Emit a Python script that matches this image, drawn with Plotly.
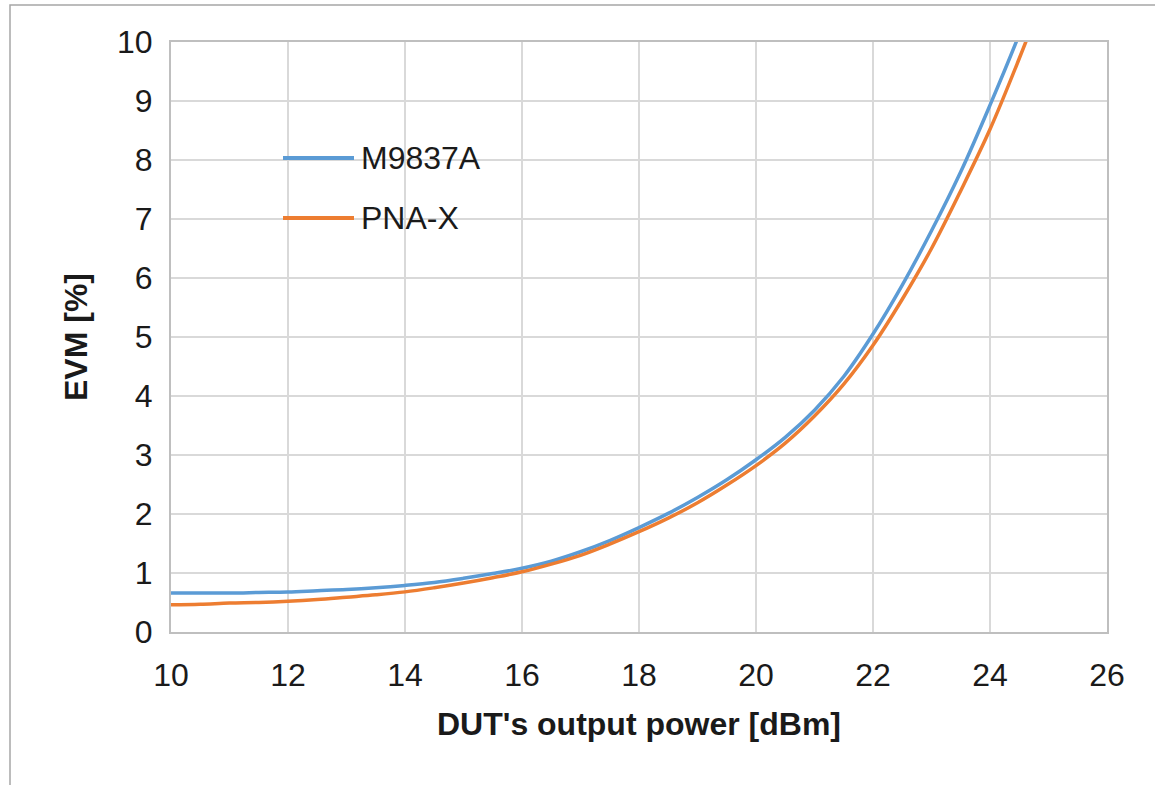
import plotly.graph_objects as go

# ---- data ----
power_dbm = [10, 10.5, 11, 11.5, 12, 12.5, 13, 13.5, 14, 14.5, 15, 15.5, 16, 16.5, 17, 17.5,
             18, 18.5, 19, 19.5, 20, 20.5, 21, 21.5, 22, 22.5, 23, 23.5, 24, 24.5, 25]
evm_m9837a = [0.66, 0.66, 0.66, 0.67, 0.68, 0.70, 0.72, 0.75, 0.79, 0.84, 0.91, 0.99, 1.08, 1.20,
              1.36, 1.55, 1.77, 2.01, 2.28, 2.58, 2.92, 3.30, 3.76, 4.33, 5.05, 5.88, 6.80, 7.80,
              8.93, 10.13, 11.45]
evm_pnax = [0.46, 0.47, 0.49, 0.50, 0.52, 0.55, 0.59, 0.63, 0.68, 0.75, 0.83, 0.92, 1.02, 1.15,
            1.30, 1.49, 1.70, 1.93, 2.19, 2.49, 2.82, 3.20, 3.66, 4.20, 4.86, 5.64, 6.50, 7.48,
            8.52, 9.72, 11.00]

series_names = ["M9837A", "PNA-X"]
series_colors = ["#5B9BD5", "#ED7D31"]
x_ticks = [10, 12, 14, 16, 18, 20, 22, 24, 26]
y_ticks = list(range(0, 11))
x_title = "DUT's output power [dBm]"
y_title = "EVM [%]"

FONT = "Liberation Sans, Arial, sans-serif"
fs = 32

fig = go.Figure()
for name, ys, col in zip(series_names, [evm_m9837a, evm_pnax], series_colors):
    fig.add_trace(go.Scatter(x=power_dbm, y=ys, mode="lines", name=name,
                             line=dict(color=col, width=3.5, shape="spline", smoothing=1.0),
                             showlegend=False, hoverinfo="skip"))

# plot-area geometry (pixels) for the manual legend / outer frame
W, H = 1155, 785
ml, mr, mt, mb = 171, 48, 42, 153
pw, ph = W - ml - mr, H - mt - mb

def px_x(p):
    return (p - ml) / pw

def px_y(p):
    return (H - mb - p) / ph

shapes = []
annotations = []
# manual legend (long line samples, as in the reference)
legend_rows = [158, 218]
for name, col, ry in zip(series_names, series_colors, legend_rows):
    shapes.append(dict(type="line", xref="paper", yref="paper",
                       x0=px_x(283), x1=px_x(354), y0=px_y(ry), y1=px_y(ry),
                       line=dict(color=col, width=4)))
    annotations.append(dict(xref="paper", yref="paper", x=px_x(359), y=px_y(ry),
                            text=name, showarrow=False, xanchor="left", yanchor="middle",
                            font=dict(family=FONT, size=fs, color="#1a1a1a")))

# outer frame (left / top edges visible)
shapes.append(dict(type="rect", xref="paper", yref="paper",
                   x0=px_x(10), x1=px_x(1175), y0=px_y(5), y1=px_y(805),
                   line=dict(color="#a6a6a6", width=1.5), layer="below"))

fig.update_layout(
    width=W, height=H,
    margin=dict(l=ml, r=mr, t=mt, b=mb),
    paper_bgcolor="white", plot_bgcolor="white",
    font=dict(family=FONT, size=fs, color="#1a1a1a"),
    shapes=shapes, annotations=annotations,
    showlegend=False,
)
fig.update_xaxes(range=[10, 26], tickvals=x_ticks, ticktext=[str(v) for v in x_ticks],
                 showgrid=True, gridcolor="#d9d9d9", gridwidth=2,
                 showline=True, linecolor="#bfbfbf", linewidth=2, mirror=True,
                 zeroline=False, ticks="", ticklabelstandoff=14,
                 tickfont=dict(size=fs),
                 title=dict(text=f"<b>{x_title}</b>", font=dict(size=fs), standoff=20))
fig.update_yaxes(range=[0, 10], tickvals=y_ticks, ticktext=[str(v) for v in y_ticks],
                 showgrid=True, gridcolor="#d9d9d9", gridwidth=2,
                 showline=True, linecolor="#bfbfbf", linewidth=2, mirror=True,
                 zeroline=False, ticks="", ticklabelstandoff=10,
                 tickfont=dict(size=fs),
                 title=dict(text=f"<b>{y_title}</b>", font=dict(size=fs), standoff=20))

fig.write_html("out.html", config={"displayModeBar": False},
               post_script="document.body.style.margin='0';")
